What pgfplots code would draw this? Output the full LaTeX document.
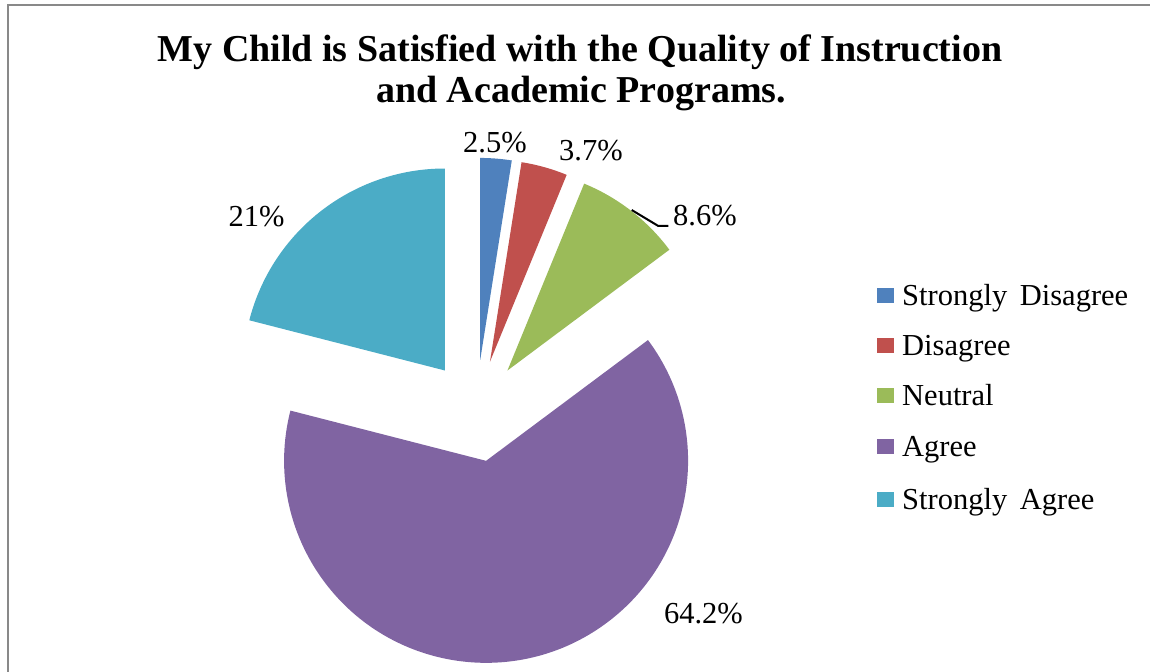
\documentclass[border=0pt]{standalone}
\usepackage{pgfplots}
\pgfplotsset{compat=1.18}
\usepackage{fontspec}
\setmainfont{Liberation Serif}
\definecolor{cSD}{HTML}{4F81BD}
\definecolor{cD}{HTML}{C0504D}
\definecolor{cN}{HTML}{9BBB59}
\definecolor{cA}{HTML}{8064A2}
\definecolor{cSA}{HTML}{4BACC6}
\definecolor{frame}{HTML}{898989}
% data (percent)
\def\vSD{2.5}\def\vD{3.7}\def\vN{8.6}\def\vA{64.2}\def\vSA{21}
% geometry (axis units = bp)
\def\cx{476.2}\def\cy{261.2}\def\R{202}\def\ex{51}
\newcommand\lbl{\fontsize{30.5bp}{36bp}\selectfont}
\newcommand\pieslice[3]{%
  \fill[#1] (axis cs:{\cx+\ex*cos((#2+#3)/2)},{\cy+\ex*sin((#2+#3)/2)})
    -- ++({#2}:\R bp) arc[start angle={#2}, end angle={#3}, radius=\R bp] -- cycle;}
\newcommand\legentry[3]{%
  \fill[#1] (axis cs:877,{#2-7.5}) rectangle (axis cs:894,{#2+7.5});
  \node[anchor=base west, inner sep=0pt, font=\lbl] at (axis cs:902,{#2-9.5}) {#3};}
\begin{document}
\begin{tikzpicture}
\pgfmathsetmacro\aO{90}
\pgfmathsetmacro\aA{\aO-3.6*\vSD}
\pgfmathsetmacro\aB{\aA-3.6*\vD}
\pgfmathsetmacro\aC{\aB-3.6*\vN}
\pgfmathsetmacro\aD{\aC-3.6*\vA}
\pgfmathsetmacro\aE{\aD-3.6*\vSA}
\begin{axis}[x=1bp, y=1bp, xmin=0, xmax=1150, ymin=0, ymax=672,
  hide axis, clip=false, anchor=south west, at={(0,0)}]
\addplot[draw=none] coordinates {(0,0) (1150,672)};
% frame
\draw[frame, line width=2.5bp] (axis cs:8,-20) -- (axis cs:8,667) -- (axis cs:1170,667);
% slices
\pieslice{cSD}{\aO}{\aA}
\pieslice{cD}{\aA}{\aB}
\pieslice{cN}{\aB}{\aC}
\pieslice{cA}{\aC}{\aD}
\pieslice{cSA}{\aD}{\aE}
% title
\node[anchor=base, inner sep=0pt, font=\fontsize{38bp}{42bp}\selectfont\bfseries] at (axis cs:580,610) {My Child is Satisfied with the Quality of Instruction};
\node[anchor=base, inner sep=0pt, font=\fontsize{38bp}{42bp}\selectfont\bfseries] at (axis cs:581,569) {and Academic Programs.};
% data labels
\node[anchor=base, inner sep=0pt, font=\lbl] at (axis cs:495,519) {2.5\%};
\node[anchor=base, inner sep=0pt, font=\lbl] at (axis cs:591,511) {3.7\%};
\node[anchor=base west, inner sep=0pt, font=\lbl] at (axis cs:673,446) {8.6\%};
\node[anchor=base, inner sep=0pt, font=\lbl] at (axis cs:256.5,445) {21\%};
\node[anchor=base, inner sep=0pt, font=\lbl] at (axis cs:703.5,49) {64.2\%};
\draw[black, line width=2bp] (axis cs:631.7,462) -- (axis cs:658.3,446) -- (axis cs:668.3,446);
% legend
\legentry{cSD}{376.5}{Strongly\hspace{5bp} Disagree}
\legentry{cD}{326.5}{Disagree}
\legentry{cN}{276}{Neutral}
\legentry{cA}{225}{Agree}
\legentry{cSA}{172.5}{Strongly\hspace{5bp} Agree}
\end{axis}
\pgfresetboundingbox
\useasboundingbox (0,0) rectangle (1150bp,672bp);
\end{tikzpicture}
\end{document}
